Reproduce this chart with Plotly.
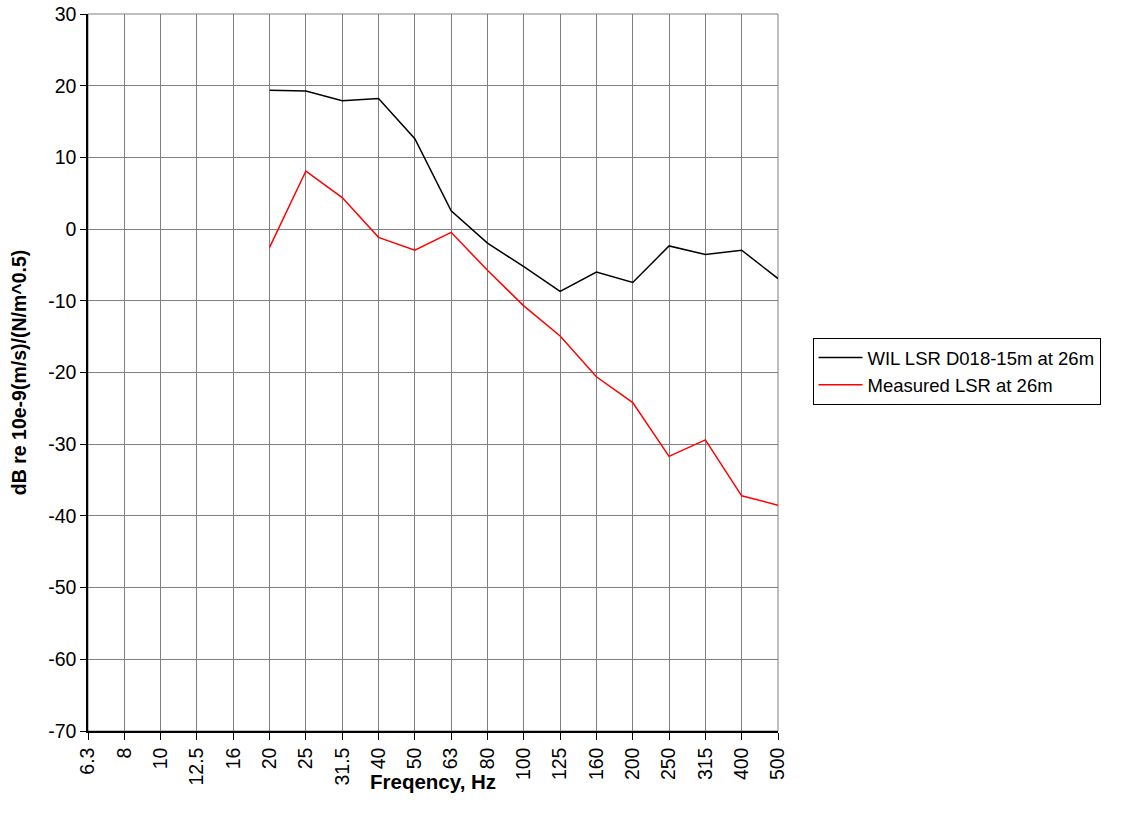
import plotly.graph_objects as go

# One-third-octave band centre frequencies (Hz)
freqs = ["6.3", "8", "10", "12.5", "16", "20", "25", "31.5", "40", "50",
         "63", "80", "100", "125", "160", "200", "250", "315", "400", "500"]

# Line source response levels, dB re 10e-9 (m/s)/(N/m^0.5); None where no data
wil_lsr = [None, None, None, None, None,
           19.35, 19.25, 17.9, 18.2, 12.6, 2.55, -1.95, -5.25, -8.7,
           -6.0, -7.45, -2.35, -3.55, -2.95, -6.9]
measured_lsr = [None, None, None, None, None,
                -2.55, 8.1, 4.4, -1.15, -2.95, -0.45, -5.75, -10.7, -14.9,
                -20.6, -24.2, -31.7, -29.4, -37.2, -38.5]

series_names = ["WIL LSR D018-15m at 26m", "Measured LSR at 26m"]
series_colors = ["#000000", "#ff0000"]

# y-axis ticks, labelled with a plain hyphen for negatives
y_ticks = [30, 20, 10, 0, -10, -20, -30, -40, -50, -60, -70]
y_ticklabels = ["30", "20", "10", "0", "-10", "-20", "-30", "-40", "-50", "-60", "-70"]

x_title = "Freqency, Hz"
y_title = "dB re 10e-9(m/s)/(N/m^0.5)"

FONT = "Liberation Sans, Arial, sans-serif"

fig = go.Figure()
for name, vals, col in zip(series_names, [wil_lsr, measured_lsr], series_colors):
    fig.add_trace(go.Scatter(
        x=freqs, y=vals, name=name, mode="lines",
        line=dict(color=col, width=1.5),
        connectgaps=False, cliponaxis=False,
    ))

fig.update_layout(
    width=1134, height=828,
    margin=dict(l=88, r=356, t=14, b=97),
    paper_bgcolor="white", plot_bgcolor="white",
    font=dict(family=FONT, size=20, color="black"),
    showlegend=True,
    legend=dict(
        x=1.05, y=0.548, xanchor="left", yanchor="top",
        bordercolor="black", borderwidth=1, bgcolor="white",
        font=dict(family=FONT, size=18.5, color="black"),
        tracegroupgap=0, itemwidth=44,
    ),
    shapes=[dict(type="rect", xref="paper", yref="paper", x0=0, y0=0, x1=1, y1=1,
                 line=dict(color="#808080", width=1), layer="below")],
    # x-axis title sits close under the shorter tick labels
    annotations=[dict(text="<b>" + x_title + "</b>", xref="paper", yref="paper",
                      x=0.5, y=-0.0711, xanchor="center", yanchor="middle",
                      showarrow=False, font=dict(family=FONT, size=20.5, color="black"))],
)

fig.update_xaxes(
    type="category", range=[0, 19], automargin=False,
    showgrid=True, gridcolor="#808080", gridwidth=1,
    showline=True, linecolor="black", linewidth=1.5,
    ticks="outside", ticklen=7, tickcolor="black",
    tickangle=-90, tickfont=dict(family=FONT, size=19.5),
    zeroline=False,
)
fig.update_yaxes(
    range=[-70, 30], automargin=False,
    tickmode="array", tickvals=y_ticks, ticktext=y_ticklabels,
    showgrid=True, gridcolor="#808080", gridwidth=1,
    showline=True, linecolor="black", linewidth=1.5,
    ticks="outside", ticklen=6, tickcolor="black",
    tickfont=dict(family=FONT, size=19.5),
    title=dict(text="<b>" + y_title + "</b>", font=dict(family=FONT, size=19.5), standoff=16),
    zeroline=False,
)

fig.write_html("out.html")
